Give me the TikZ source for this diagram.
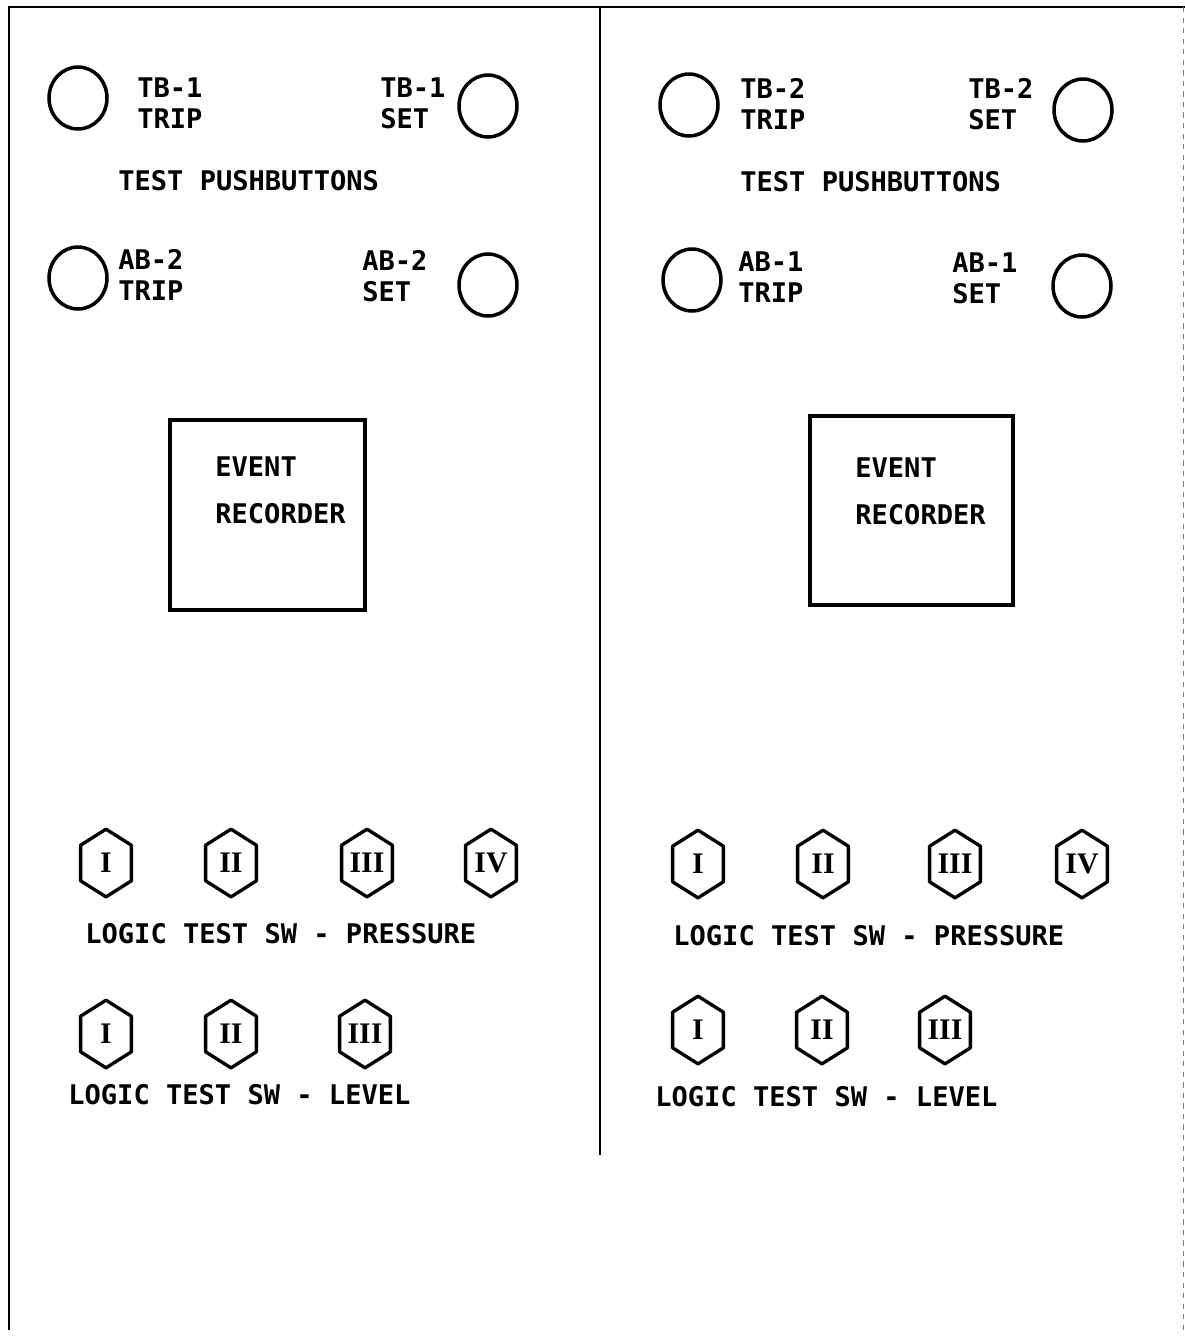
\documentclass[tikz,border=0pt]{standalone}
\usepackage{fontspec}
\setmainfont{DejaVu Sans Mono}
\newfontfamily\romfont{Liberation Serif}
\usetikzlibrary{shapes.geometric}

\begin{document}
\begin{tikzpicture}[x=0.02cm,y=-0.02cm]
\tikzstyle{every node}=[inner sep=0pt,font=\bfseries\fontsize{15.4}{17.6}\selectfont]
\tikzstyle{frame}=[line width=1.6pt]
\tikzstyle{pb}=[draw,ellipse,minimum width=1.16cm,minimum height=1.24cm,line width=2pt]
\tikzstyle{lbl}=[anchor=west,align=left]
\tikzstyle{reclbl}=[anchor=west,align=left,font=\bfseries\fontsize{15.4}{26.7}\selectfont]
\tikzstyle{recorder}=[draw,line width=1.8pt]
\tikzstyle{sw}=[minimum width=1cm,minimum height=0.7cm,font=\romfont\bfseries\fontsize{17}{17}\selectfont]
\tikzstyle{hex}=[line width=1.9pt,line join=round]
\useasboundingbox (0,0) rectangle (1185,1340);
% panel frame
\draw[frame] (8,7) -- (1185,7);
\draw[frame] (9,7) -- (9,1330);
\draw[frame] (600,7) -- (600,1155);
\draw[gray,dashed,line width=0.5pt] (1183,7) -- (1183,1330);
% left panel pushbuttons
\node[pb] (tb1trip) at (78,98) {};
\node[pb] (tb1set) at (488,106) {};
\node[pb] (ab2trip) at (78,278) {};
\node[pb] (ab2set) at (488,285) {};
\node[lbl] (tb1tripl) at (137,103) {TB-1\\TRIP};
\node[lbl] (tb1setl) at (380,103) {TB-1\\SET};
\node[lbl] (ab2tripl) at (118,275) {AB-2\\TRIP};
\node[lbl] (ab2setl) at (362,276) {AB-2\\SET};
\node[lbl] (testl) at (118,181) {TEST PUSHBUTTONS};
% right panel pushbuttons
\node[pb] (tb2trip) at (689,105) {};
\node[pb] (tb2set) at (1083,110) {};
\node[pb] (ab1trip) at (692,280) {};
\node[pb] (ab1set) at (1082,286) {};
\node[lbl] (tb2tripl) at (740,104) {TB-2\\TRIP};
\node[lbl] (tb2setl) at (968,104) {TB-2\\SET};
\node[lbl] (ab1tripl) at (738,277) {AB-1\\TRIP};
\node[lbl] (ab1setl) at (952,278) {AB-1\\SET};
\node[lbl] (testr) at (740,182) {TEST PUSHBUTTONS};
% event recorders
\node[recorder,minimum width=3.9cm,minimum height=3.8cm] (recl) at (267.5,515) {};
\node[reclbl] (recltxt) at (215,490) {EVENT\\RECORDER};
\node[recorder,minimum width=4.06cm,minimum height=3.78cm] (recr) at (911.5,510.5) {};
\node[reclbl] (recrtxt) at (855,491) {EVENT\\RECORDER};
% logic test switches
\foreach \n/\x/\y/\t in {lp1/106/863/I, lp2/231/863/II, lp3/367/863/III, lp4/491/863/IV,
  ll1/106/1034/I, ll2/231/1034/II, ll3/365/1034/III,
  rp1/698/864/I, rp2/823/864/II, rp3/955/864/III, rp4/1082/864/IV,
  rl1/698/1030/I, rl2/822/1030/II, rl3/945/1030/III}
{
\node[sw] (\n) at (\x,\y) {\t};
\draw[hex] ([yshift=0.32cm]\n.north) -- (\n.north east) -- (\n.south east)
  -- ([yshift=-0.32cm]\n.south) -- (\n.south west) -- (\n.north west) -- cycle;
}
\node[lbl] (presl) at (85,934) {LOGIC TEST SW - PRESSURE};
\node[lbl] (levl) at (68,1095) {LOGIC TEST SW - LEVEL};
\node[lbl] (presr) at (673,936) {LOGIC TEST SW - PRESSURE};
\node[lbl] (levr) at (655,1097) {LOGIC TEST SW - LEVEL};
\end{tikzpicture}
\end{document}
